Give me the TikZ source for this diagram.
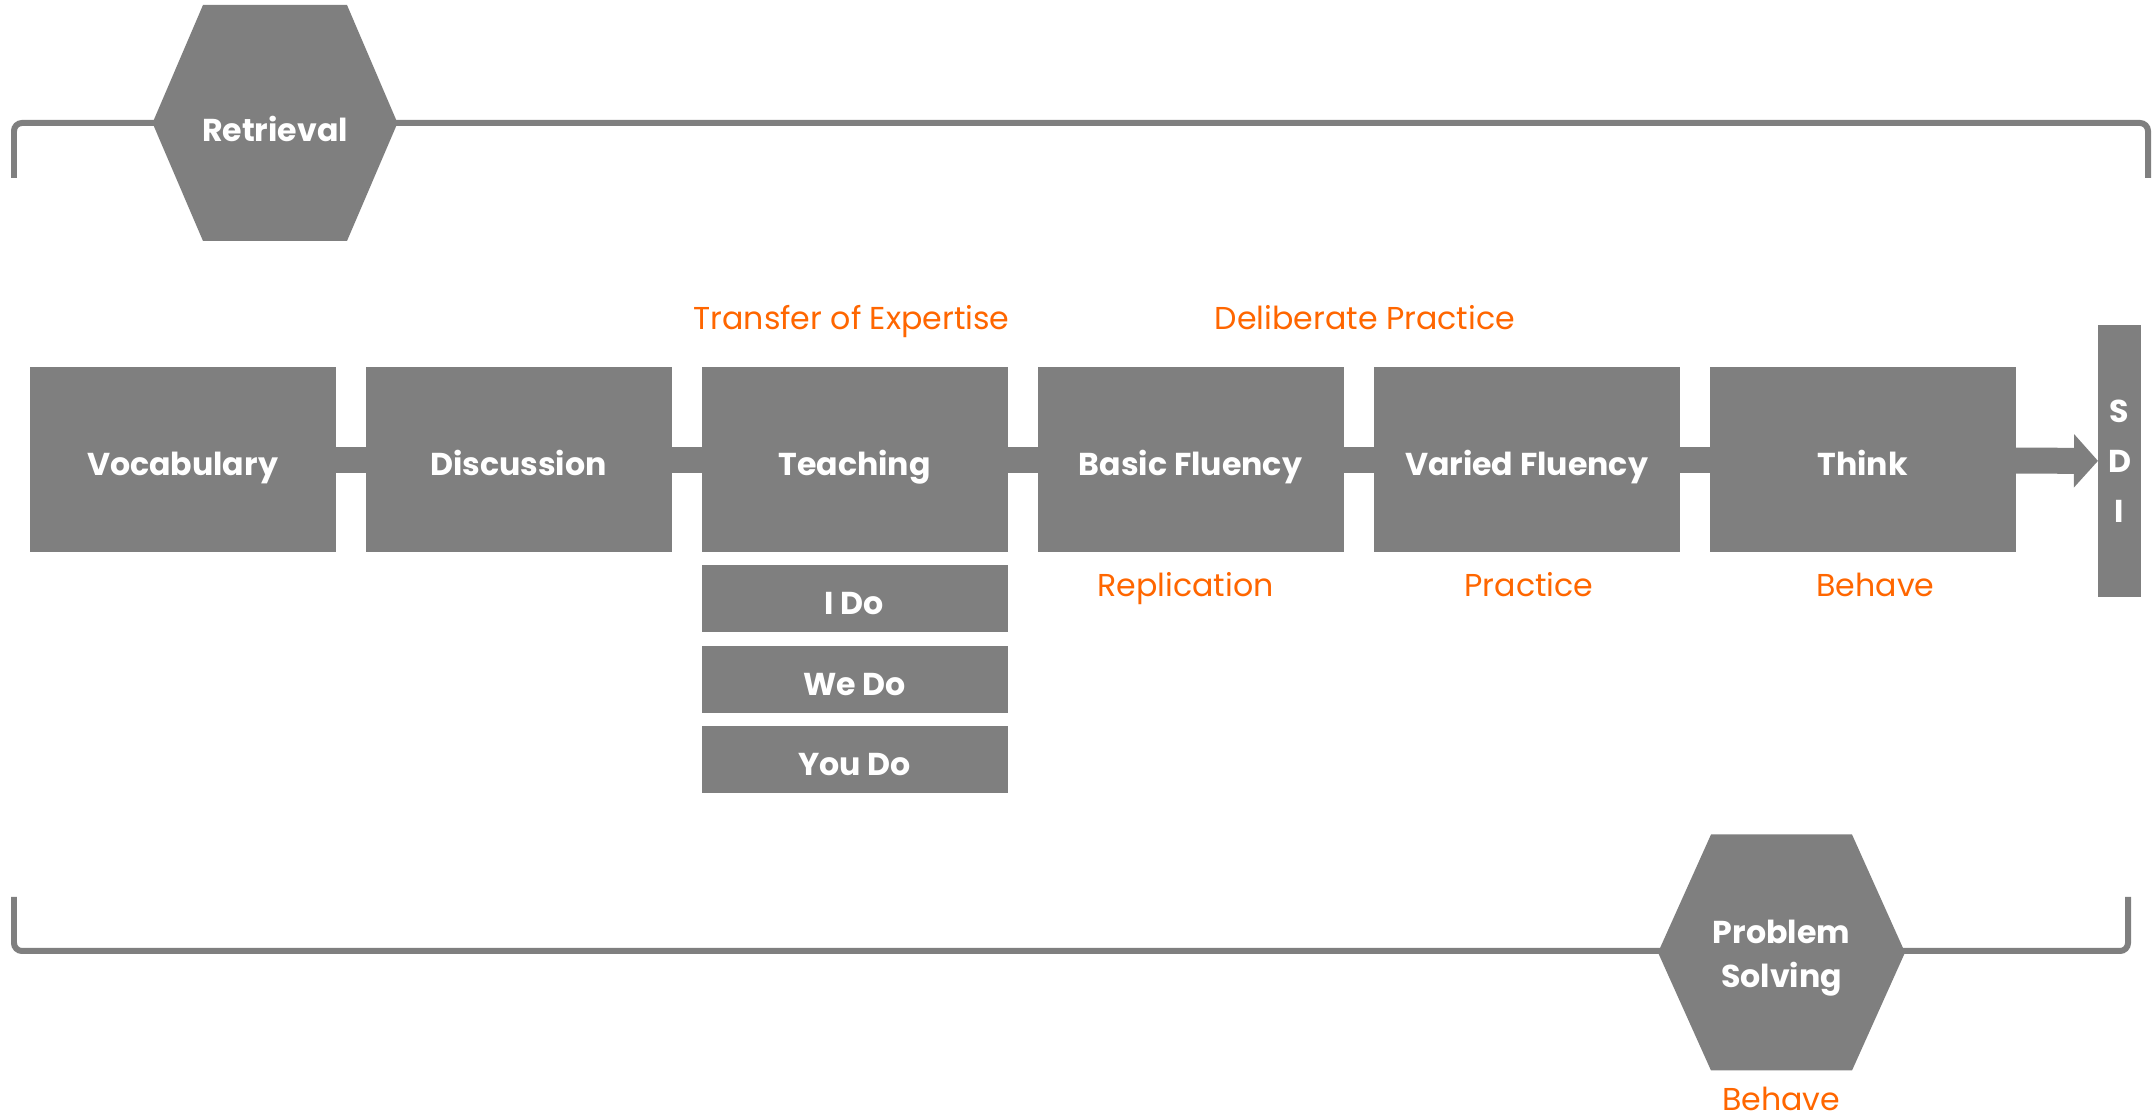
\documentclass[tikz,border=0pt]{standalone}
\usepackage{fontspec}
\setmainfont{Poppins}
\usetikzlibrary{
  positioning,
  arrows.meta
}
\definecolor{boxgray}{RGB}{127,127,127}
\definecolor{accent}{RGB}{255,102,0}
\tikzset{
  stepbox/.style={fill=boxgray,text=white,font=\bfseries\fontsize{9}{12.5}\selectfont,
    text height=2ex,text depth=0.4ex,
    minimum width=3.06cm,minimum height=1.85cm,inner sep=0pt,outer sep=0pt},
  subbox/.style={stepbox,minimum height=0.67cm},
  link/.style={boxgray,line width=0.26cm},
  bracket/.style={draw=boxgray,line width=0.06cm,rounded corners=0.08cm},
  note/.style={text=accent,font=\fontsize{9}{12}\selectfont,anchor=base,inner sep=0pt},
  pics/hexa/.style n args={3}{code={
    \fill[boxgray] (-#1,0) -- (-#2,1.18) -- (#2,1.18) -- (#1,0) -- (#2,-1.18) -- (-#2,-1.18) -- cycle;
    \node[text=white,font=\bfseries\fontsize{9}{12.5}\selectfont,align=center,yshift=-0.06cm] (-label) {#3};
  }},
}

\begin{document}
\begin{tikzpicture}
\useasboundingbox (0,0) rectangle (21.56,11.17);
% brackets with the two hexagons
\draw[bracket] (0.14,9.39) |- (21.48,9.94) -- (21.48,9.39);
\draw[bracket] (0.14,2.20) |- (21.28,1.66) -- (21.28,2.20);
\pic (retr) at (2.75,9.94) {hexa={1.225}{0.72}{Retrieval}};
\pic (prob) at (17.815,1.645) {hexa={1.235}{0.705}{Problem\\Solving}};
% main row
\foreach \nm/\txt [count=\i] in {vocab/Vocabulary, discuss/Discussion, teach/Teaching,
  basic/Basic Fluency, varied/Varied Fluency, think/Think}
{
  \node[stepbox] (\nm) at ({1.825+3.36*(\i-1)},6.57) {\txt};
}
\foreach \a/\b in {vocab/discuss, discuss/teach, teach/basic, basic/varied, varied/think}
{
  \draw[link] (\a) -- (\b);
}
\node[stepbox,text height=,text depth=,minimum width=0.43cm,minimum height=2.72cm,align=center,
  font=\bfseries\fontsize{9}{14.2}\selectfont] (sdi) at (21.195,6.56) {S\\D\\I};
\draw[link,-{Triangle[length=0.24cm,width=0.52cm]}] (think) -- (sdi);
% teaching steps
\node[subbox,below=0.13cm of teach] (ido) {I Do};
\node[subbox,below=0.14cm of ido] (wedo) {We Do};
\node[subbox,below=0.13cm of wedo] (youdo) {You Do};
% orange notes
\node[note] (transfer) at (8.515,7.87) {Transfer of Expertise};
\node[note] (deliberate) at (13.65,7.87) {Deliberate Practice};
\node[note] (replic) at (11.855,5.20) {Replication};
\node[note] (practice) at (15.29,5.20) {Practice};
\node[note] (behave) at (18.755,5.20) {Behave};
\node[note] (behavebot) at (17.81,0.07) {Behave};
\end{tikzpicture}
\end{document}
